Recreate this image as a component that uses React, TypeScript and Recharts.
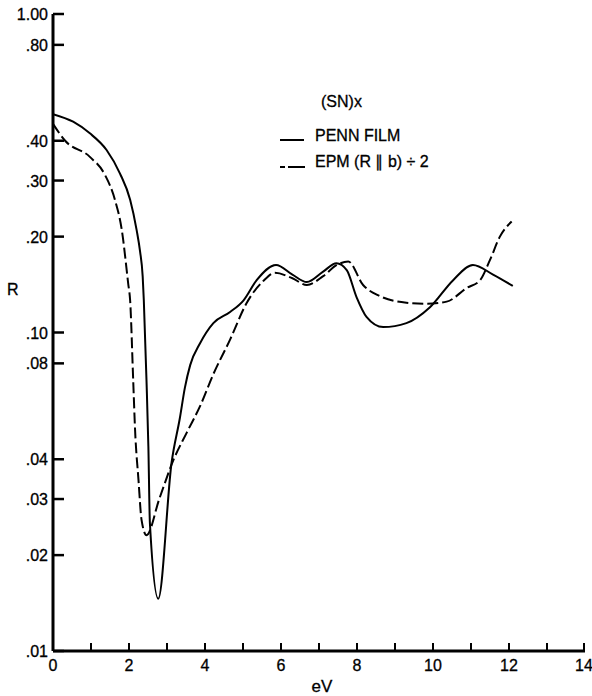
import { Line, LineChart, XAxis, YAxis } from "recharts";

const pennX = [0, 0.53, 0.97, 1.41, 1.76, 2.03, 2.2, 2.29, 2.36, 2.39, 2.46, 2.51, 2.55, 2.77, 3.12, 3.34, 3.47, 3.61, 3.87, 4.22, 4.66, 5.01, 5.36, 5.87, 6.3, 6.68, 7.1, 7.46, 7.73, 7.99, 8.25, 8.69, 9.3, 9.92, 10.53, 11.05, 11.58, 12.1];
const pennR = [0.485, 0.459, 0.422, 0.374, 0.316, 0.261, 0.21, 0.18, 0.15, 0.126, 0.071, 0.0438, 0.0252, 0.0146, 0.039, 0.054, 0.067, 0.079, 0.0925, 0.107, 0.116, 0.126, 0.146, 0.163, 0.152, 0.144, 0.155, 0.165, 0.157, 0.129, 0.112, 0.104, 0.107, 0.12, 0.146, 0.163, 0.152, 0.14];

const epmX = [0, 0.32, 0.97, 1.37, 1.63, 1.81, 1.98, 2.03, 2.11, 2.16, 2.25, 2.33, 2.46, 2.8, 3.17, 3.52, 3.87, 4.22, 4.66, 5.1, 5.53, 5.84, 6.3, 6.68, 7.1, 7.47, 7.77, 8.16, 8.61, 9.3, 9.83, 10.36, 10.89, 11.24, 11.5, 11.76, 12.07];
const epmR = [0.452, 0.4, 0.356, 0.312, 0.261, 0.21, 0.142, 0.126, 0.071, 0.0494, 0.0344, 0.0258, 0.0231, 0.0301, 0.0398, 0.0485, 0.0587, 0.074, 0.095, 0.124, 0.145, 0.154, 0.148, 0.141, 0.15, 0.163, 0.167, 0.141, 0.13, 0.124, 0.123, 0.125, 0.138, 0.146, 0.169, 0.2, 0.223];

const rTicks = [0.01, 0.02, 0.03, 0.04, 0.08, 0.1, 0.2, 0.3, 0.4, 0.8, 1];
const rLabels = [".01", ".02", ".03", ".04", ".08", ".10", ".20", ".30", ".40", ".80", "1.00"];
const evTicks = [0, 1, 2, 3, 4, 5, 6, 7, 8, 9, 10, 11, 12, 13, 14];

const penn = pennX.map((x, i) => ({ x, r: pennR[i] }));
const epm = epmX.map((x, i) => ({ x, r: epmR[i] }));

const FONT = "'Liberation Sans', Arial, sans-serif";

function LeftTick(props: any) {
  const { x, y, payload } = props;
  const label = rLabels[rTicks.indexOf(payload.value)];
  return (
    <g>
      <line x1={x} x2={x + 11} y1={y} y2={y} stroke="#000" strokeWidth={2.5} />
      <text x={x - 5} y={y} dy={6} textAnchor="end" fontSize={16} fontFamily={FONT} fill="#000" stroke="#000" strokeWidth={0.3}>
        {label}
      </text>
    </g>
  );
}

function RightTick(props: any) {
  const { x, y } = props;
  return <line x1={x} x2={x - 11} y1={y} y2={y} stroke="#000" strokeWidth={2.5} />;
}

function BottomTick(props: any) {
  const { x, y, payload } = props;
  const v = payload.value;
  return (
    <g>
      <line x1={x} x2={x} y1={y} y2={y - 8} stroke="#000" strokeWidth={2} />
      {v % 2 === 0 && (
        <text x={x} y={y} dy={20} textAnchor="middle" fontSize={16} fontFamily={FONT} fill="#000" stroke="#000" strokeWidth={0.3}>
          {v}
        </text>
      )}
    </g>
  );
}

function TopTick(props: any) {
  const { x, y } = props;
  return <line x1={x} x2={x} y1={y} y2={y + 8} stroke="#000" strokeWidth={2} />;
}

export default function App() {
  return (
    <div style={{ position: "absolute", left: 0, top: 0, width: 592, height: 696, background: "#fff" }}>
      <LineChart width={592} height={696} margin={{ top: 14, right: 7, bottom: 15, left: 0 }}>
        <XAxis
          dataKey="x"
          type="number"
          domain={[0, 14]}
          ticks={evTicks}
          height={30}
          tickSize={0}
          tickMargin={0}
          tickLine={false}
          axisLine={{ stroke: "#000", strokeWidth: 3 }}
          tick={<BottomTick />}
          allowDataOverflow
        />
        <XAxis
          xAxisId="top"
          orientation="top"
          type="number"
          domain={[0, 14]}
          ticks={evTicks}
          height={0}
          tickSize={0}
          tickMargin={0}
          tickLine={false}
          axisLine={{ stroke: "#000", strokeWidth: 3 }}
          tick={<TopTick />}
        />
        <YAxis
          type="number"
          scale="log"
          domain={[0.01, 1]}
          ticks={rTicks}
          width={53}
          tickSize={0}
          tickMargin={0}
          tickLine={false}
          axisLine={{ stroke: "#000", strokeWidth: 3 }}
          tick={<LeftTick />}
          allowDataOverflow
        />
        <YAxis
          yAxisId="right"
          orientation="right"
          type="number"
          scale="log"
          domain={[0.01, 1]}
          ticks={rTicks}
          width={0}
          tickSize={0}
          tickMargin={0}
          tickLine={false}
          axisLine={{ stroke: "#000", strokeWidth: 2.5 }}
          tick={<RightTick />}
          allowDataOverflow
        />
        <Line data={penn} dataKey="r" type="monotone" stroke="#000" strokeWidth={2} dot={false} isAnimationActive={false} />
        <Line data={epm} dataKey="r" type="monotone" stroke="#000" strokeWidth={2} strokeDasharray="11 4" dot={false} isAnimationActive={false} />
      </LineChart>

      <svg style={{ position: "absolute", left: 0, top: 0 }} width={592} height={696}>
        <g fontFamily={FONT} fill="#000" stroke="#000" strokeWidth={0.3}>
          <text x={7} y={295} fontSize={16}>R</text>
          <text x={322} y={692} fontSize={17} textAnchor="middle">eV</text>
          <text x={321} y={107} fontSize={16}>(SN)x</text>
          <text x={315} y={141} fontSize={16}>PENN FILM</text>
          <text x={315} y={167} fontSize={16}>EPM (R ∥ b) ÷ 2</text>
        </g>
        <line x1={280} x2={304} y1={140} y2={140} stroke="#000" strokeWidth={2} />
        <line x1={280} x2={285} y1={167} y2={167} stroke="#000" strokeWidth={2} />
        <line x1={288} x2={305} y1={167} y2={167} stroke="#000" strokeWidth={2} />
      </svg>
    </div>
  );
}
